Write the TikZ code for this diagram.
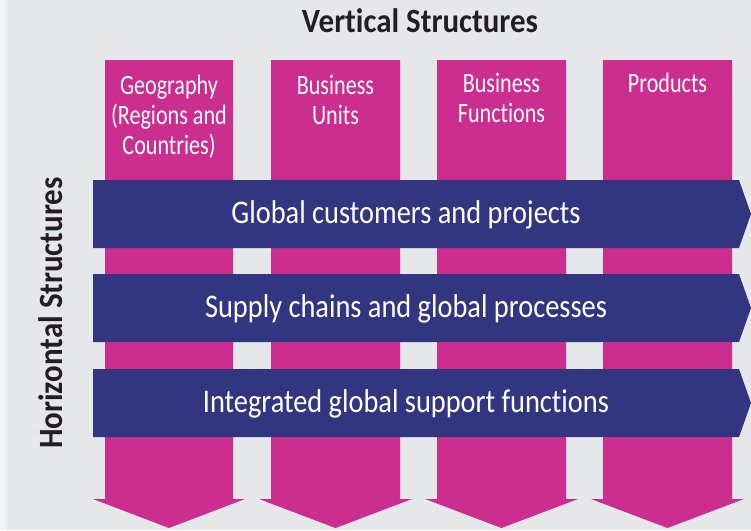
\documentclass[tikz,border=0pt]{standalone}
\usepackage{fontspec}
\setmainfont{Carlito}[FakeStretch=0.86, Ligatures=NoCommon]
\newfontfamily\headfont{Carlito}[FakeStretch=0.91, Ligatures=NoCommon]
\newfontfamily\colfont{Carlito}[FakeStretch=0.79, Ligatures=NoCommon]
\usepackage{xcolor}
\usepackage{tikz}
\usetikzlibrary{positioning}

\definecolor{vertmag}{RGB}{203,46,143}
\definecolor{horzblue}{RGB}{50,53,127}
\definecolor{paper}{RGB}{230,231,233}
\definecolor{paperedge}{RGB}{240,241,243}
\definecolor{headgrey}{RGB}{35,31,32}

\tikzset{
  vbar/.style={fill=vertmag, draw=none},
  hbar/.style={fill=horzblue, draw=none},
  % anchor=base sits on the last line of a multi-line node
  vtext/.style={text=white, align=center, anchor=base,
    font=\colfont\fontsize{28}{30}\selectfont},
  htext/.style={text=white, anchor=base, font=\fontsize{33}{36}\selectfont},
  heading/.style={text=headgrey, anchor=base,
    font=\headfont\bfseries\fontsize{34}{36}\selectfont}
}

\begin{document}
\begin{tikzpicture}[x=1pt,y=-1pt]

  % paper
  \fill[paper] (0,0) rectangle (751,530);
  \fill[paperedge] (0,0) rectangle (7,530);
  \useasboundingbox (0,0) rectangle (751,530);

  \node[heading] (vhead) at (420,32) {Vertical Structures};
  \node[heading, rotate=90] (hhead) at (62,313) {Horizontal Structures};

  % vertical columns
  \fill[vbar] (105,60) -- (233,60) -- (233,499) -- (245,499) -- (169,528) -- (93,499) -- (105,499) -- cycle;
  \fill[vbar] (271,60) -- (400,60) -- (400,499) -- (412,499) -- (335.5,528) -- (259,499) -- (271,499) -- cycle;
  \fill[vbar] (437,60) -- (566,60) -- (566,499) -- (578,499) -- (501.5,528) -- (425,499) -- (437,499) -- cycle;
  \fill[vbar] (603,60) -- (732,60) -- (732,499) -- (744,499) -- (667.5,528) -- (591,499) -- (603,499) -- cycle;

  \node[vtext] (geo) at (169,154) {Geography\\(Regions and\\Countries)};
  \node[vtext] (units) at (335.5,124) {Business\\Units};
  \node[vtext] (funcs) at (501.5,122) {Business\\Functions};
  \node[vtext] (prods) at (667.5,92) {Products};

  % horizontal bands
  \fill[hbar] (93,180) -- (739,180) -- (751,214) -- (739,248) -- (93,248) -- cycle;
  \fill[hbar] (93,274) -- (739,274) -- (751,308) -- (739,342) -- (93,342) -- cycle;
  \fill[hbar] (93,369) -- (739,369) -- (751,403) -- (739,437) -- (93,437) -- cycle;

  \node[htext] (cust) at (406,223) {Global customers and projects};
  \node[htext] (supply) at (406,317) {Supply chains and global processes};
  \node[htext] (support) at (406,412) {Integrated global support functions};

\end{tikzpicture}
\end{document}
